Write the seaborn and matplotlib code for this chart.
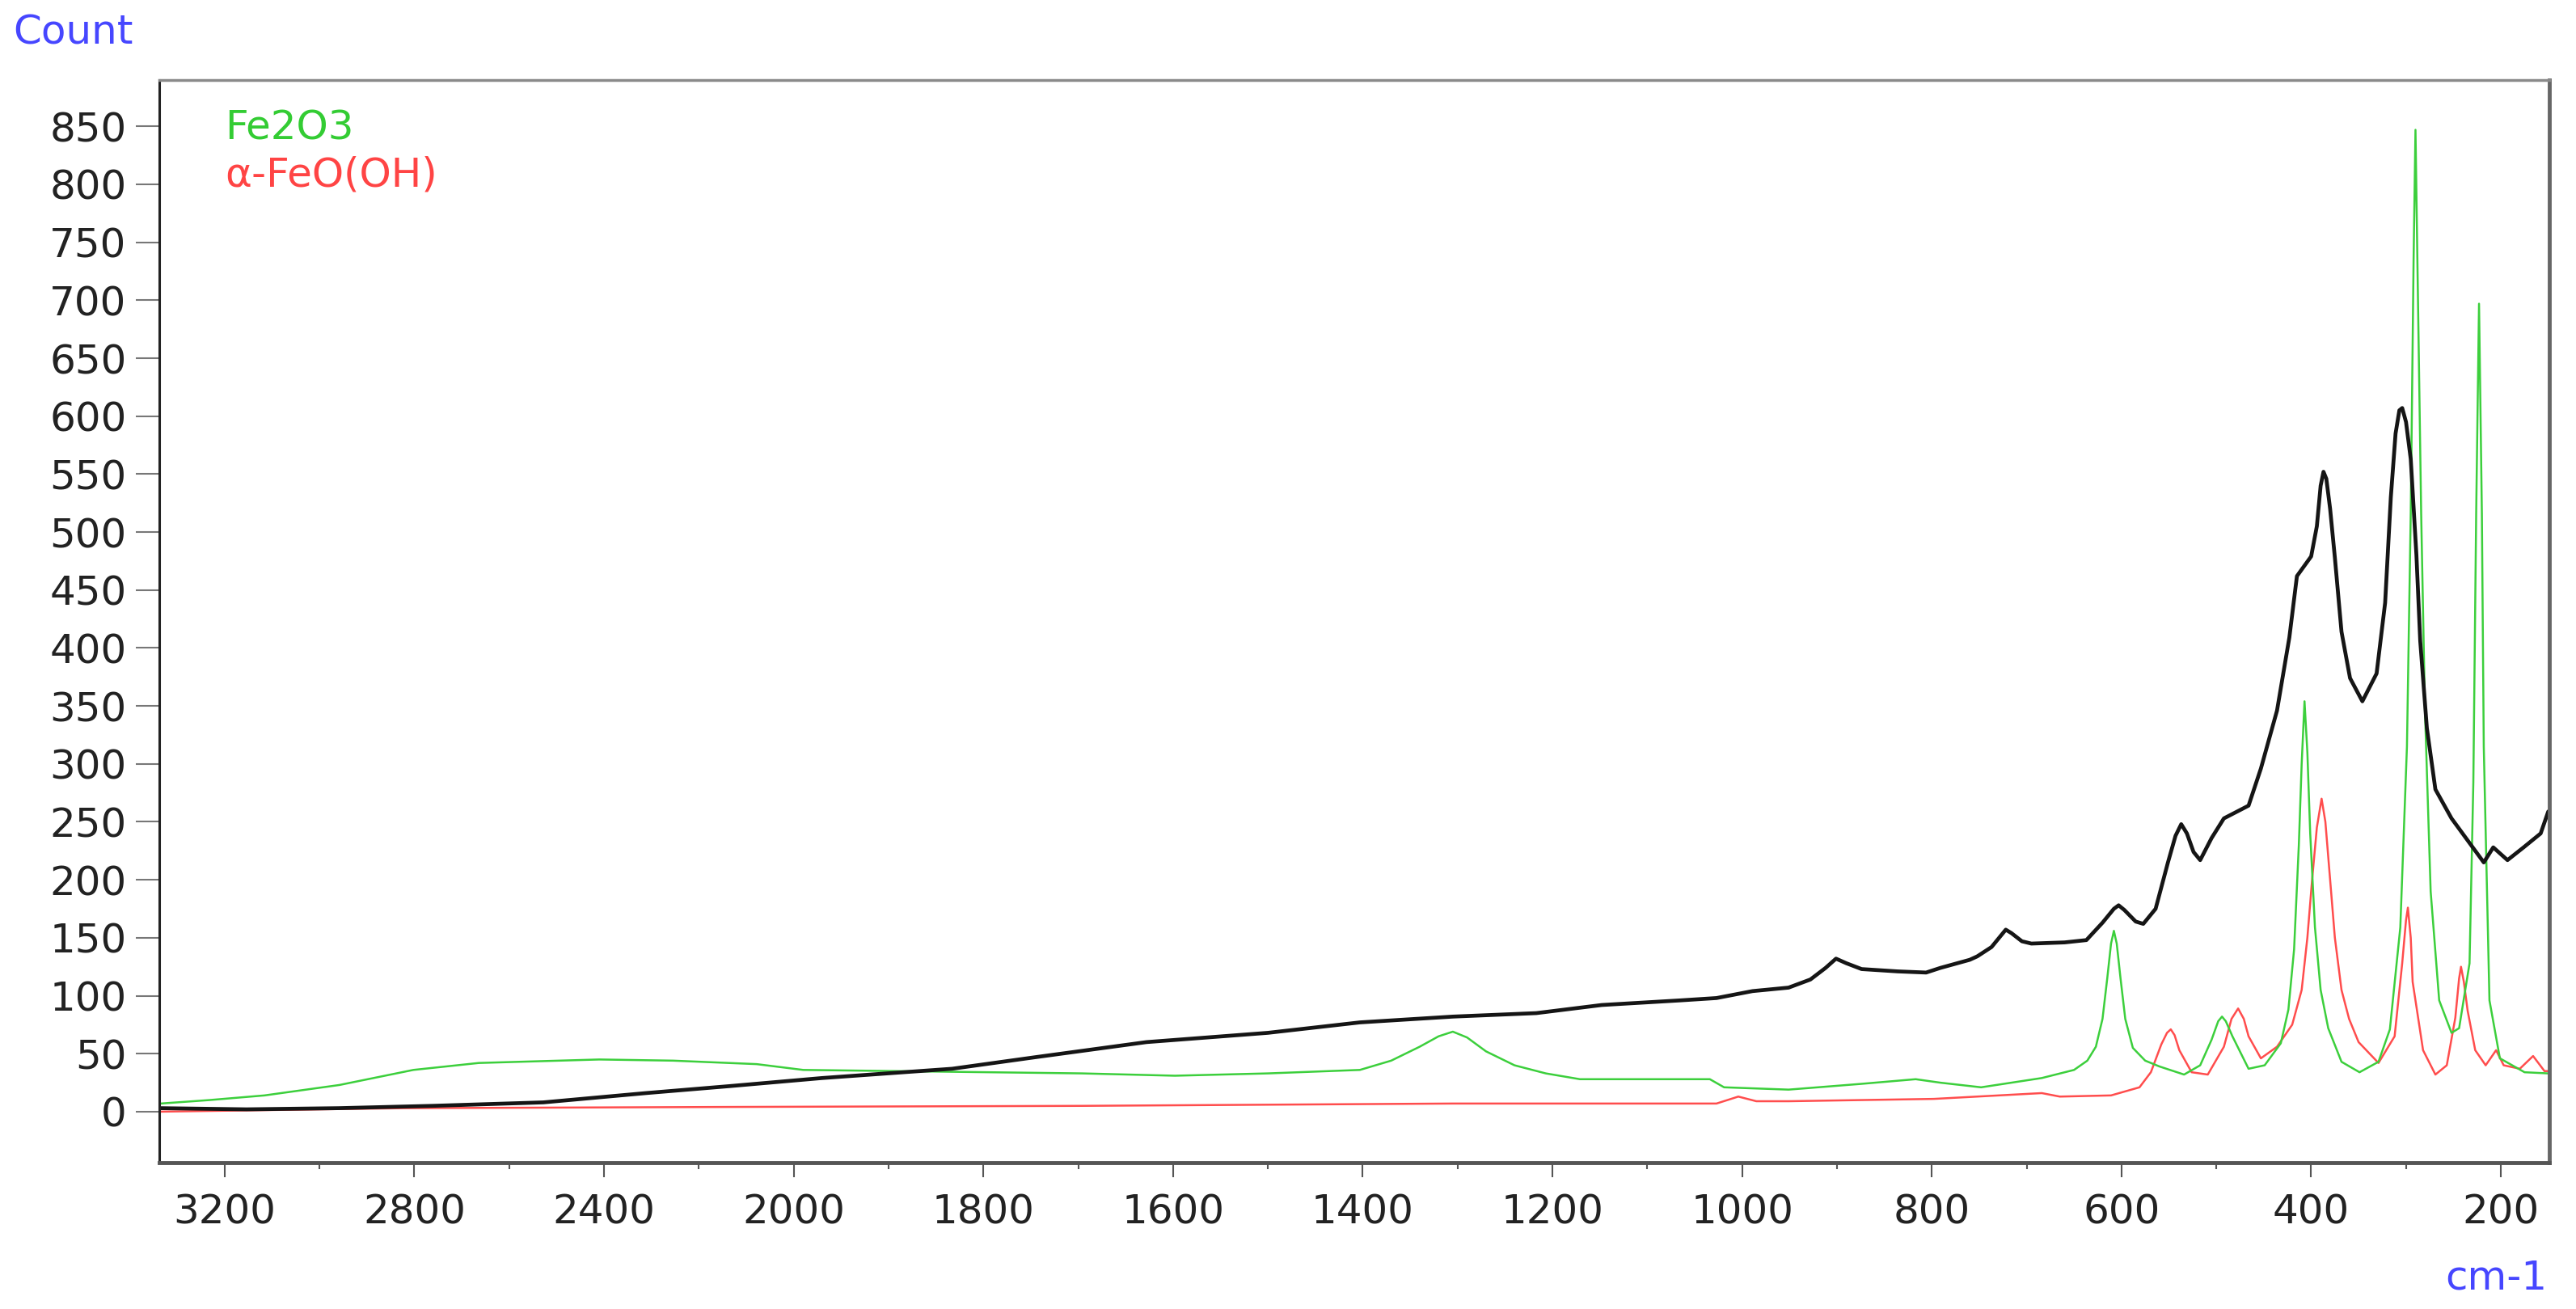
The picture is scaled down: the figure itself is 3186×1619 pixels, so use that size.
import numpy as np
import pandas as pd
import matplotlib
matplotlib.use('Agg')
import matplotlib.pyplot as plt
import seaborn as sns

# Raman shift (cm-1) and counts
amostra_cm = [3335, 3154, 2960, 2762, 2528, 2312, 2136, 1970, 1833, 1745, 1628, 1500, 1403, 1305,
              1217, 1148, 1065, 1027, 989, 951, 928, 912, 901, 890, 874, 836, 806, 791, 760, 752,
              737, 727, 722, 716, 705, 695, 660, 637, 620, 608, 603, 597, 585, 577, 564, 551, 543,
              537, 531, 524, 517, 505, 492, 466, 453, 436, 423, 415, 400,
              394, 390, 387, 384, 380, 375, 368, 359, 346, 331, 322, 316, 311, 307, 304, 300, 295,
              289, 285, 278, 269, 252, 235, 218, 208, 193, 176, 158, 150]
amostra_cnt = [3, 2, 3, 5, 8, 16, 22, 29, 37, 47, 60, 68, 77, 82,
               85, 92, 96, 98, 104, 107, 114, 124, 132, 128, 123, 121, 120, 124, 131, 134,
               142, 152, 157, 154, 147, 145, 146, 148, 163, 175, 178, 174, 164, 162, 175, 215, 238,
               248, 240, 224, 217, 236, 253, 264, 296, 346, 409, 462, 479,
               505, 540, 552, 546, 520, 478, 414, 374, 354, 378, 439, 530, 585, 605, 607, 595, 563,
               480, 406, 331, 278, 253, 234, 215, 228, 217, 228, 240, 259]

fe2o3_cm = [3335, 3232, 3116, 2958, 2802, 2664, 2410, 2254, 2078, 1990, 1892, 1794, 1696, 1598,
            1500, 1403, 1370, 1340, 1320, 1305, 1290, 1270, 1240, 1207, 1171, 1034, 1019, 951, 874,
            817, 791, 748, 684, 650, 636, 627, 620, 615, 611, 608, 605, 601, 596, 588, 575, 560,
            534, 517, 505, 498, 494, 490, 483, 466, 449, 432, 424, 418, 413, 410, 407, 404, 401,
            396, 390, 382, 368, 349, 329, 317, 306, 299, 295, 292, 290, 288, 284, 280, 274, 265,
            252, 244, 233, 229, 226, 223, 220, 218, 212, 201, 175, 150]
fe2o3_cnt = [7, 10, 14, 23, 36, 42, 45, 44, 41, 36, 35, 34, 33, 31,
             33, 36, 44, 56, 65, 69, 64, 52, 40, 33, 28, 28, 21, 19, 24,
             28, 25, 21, 29, 36, 44, 56, 80, 115, 145, 156, 145, 115, 80, 55, 44, 39,
             32, 40, 62, 78, 82, 78, 65, 37, 40, 59, 88, 140, 230, 300, 354, 310, 240,
             159, 105, 72, 43, 34, 43, 71, 159, 315, 516, 735, 847, 735, 516, 346, 190, 96,
             68, 72, 128, 284, 516, 697, 516, 315, 96, 46, 34, 33]

feooh_cm = [3335, 3000, 2822, 2176, 1696, 1305, 1217, 1027, 1004, 985, 951, 798, 684, 665, 611,
            581, 569, 558, 552, 548, 544, 539, 526, 509, 492, 484, 477, 471, 466, 453, 436, 420,
            410, 404, 399, 394, 389, 385, 380, 375, 368, 360, 350, 329, 312, 304, 300, 298, 295,
            293, 282, 269, 257, 248, 244, 242, 239, 235, 227, 216, 205, 197,
            180, 166, 154, 150]
feooh_cnt = [0, 2, 3, 4, 5, 7, 7, 7, 13, 9, 9, 11, 16, 13, 14,
             21, 34, 58, 68, 71, 66, 53, 34, 32, 56, 80, 89, 80, 65, 46, 56, 75,
             105, 150, 200, 245, 270, 250, 200, 150, 105, 80, 60, 42, 65, 128, 165, 176, 150,
             112, 53, 32, 40, 81, 115, 125, 112, 87, 53, 40, 53, 40,
             37, 48, 35, 35]

y_ticks = list(range(0, 851, 50))
x_major = [3200, 2800, 2400, 2000, 1800, 1600, 1400, 1200, 1000, 800, 600, 400, 200]
x_minor = [3000, 2600, 2200, 1900, 1700, 1500, 1300, 1100, 900, 700, 500, 300]

espectros = pd.concat([
    pd.DataFrame({'cm': amostra_cm, 'count': amostra_cnt, 'serie': 'amostra'}),
    pd.DataFrame({'cm': fe2o3_cm, 'count': fe2o3_cnt, 'serie': 'Fe2O3'}),
    pd.DataFrame({'cm': feooh_cm, 'count': feooh_cnt, 'serie': 'α-FeO(OH)'}),
])

sns.set_theme(style='white')
plt.rcParams['font.family'] = ['DejaVu Sans']

# escala do eixo x: acima de 2000 cm-1 comprimida pela metade
def fwd(v):
    v = np.asarray(v, dtype=float)
    return np.where(v > 2000, 2000 + (v - 2000) / 2, v)

def inv(t):
    t = np.asarray(t, dtype=float)
    return np.where(t > 2000, 2000 + 2 * (t - 2000), t)

fig = plt.figure(figsize=(31.86, 16.19), dpi=100)
ax = fig.add_axes([0.0618, 0.1118, 0.9278, 0.8271])

cores = {'amostra': '#151515', 'Fe2O3': '#3ccf3c', 'α-FeO(OH)': '#ff4d4d'}
larguras = {'amostra': 3.4, 'Fe2O3': 1.8, 'α-FeO(OH)': 1.8}
for serie in ['α-FeO(OH)', 'Fe2O3', 'amostra']:
    sns.lineplot(data=espectros[espectros['serie'] == serie], x='cm', y='count',
                 sort=False, estimator=None, color=cores[serie], lw=larguras[serie], ax=ax)

ax.set_xscale('function', functions=(fwd, inv))
ax.set_xlim(3338, 149)
ax.set_ylim(-44, 890)
ax.set_xticks(x_major)
ax.set_xticklabels([str(v) for v in x_major])
ax.set_xticks(x_minor, minor=True)
ax.set_yticks(y_ticks)
ax.set_xlabel('')
ax.set_ylabel('')

ax.tick_params(axis='y', which='major', direction='out', length=21, width=1.5,
               color='#777777', labelsize=36, labelcolor='#222222', pad=8, left=True)
ax.tick_params(axis='x', which='major', direction='out', length=13, width=1.5,
               color='#555555', labelsize=36, labelcolor='#222222', pad=14, bottom=True)
ax.tick_params(axis='x', which='minor', direction='out', length=6, width=1.5,
               color='#555555', bottom=True)

ax.spines['left'].set_color('#222222')
ax.spines['left'].set_linewidth(2.2)
ax.spines['bottom'].set_color('#555555')
ax.spines['bottom'].set_linewidth(3.5)
ax.spines['top'].set_color('#8a8a8a')
ax.spines['top'].set_linewidth(2.5)
ax.spines['right'].set_color('#666666')
ax.spines['right'].set_linewidth(3.5)

fig.text(0.005, 0.975, 'Count', color='#4646ff', fontsize=36, ha='left', va='center')
fig.text(0.9887, 0.0235, 'cm-1', color='#4646ff', fontsize=36, ha='right', va='center')
fig.text(0.0873, 0.9024, 'Fe2O3', color='#33cc33', fontsize=36, ha='left', va='center')
fig.text(0.0873, 0.866, 'α-FeO(OH)', color='#ff4444', fontsize=36, ha='left', va='center')

fig.savefig('out.png', dpi=100)
